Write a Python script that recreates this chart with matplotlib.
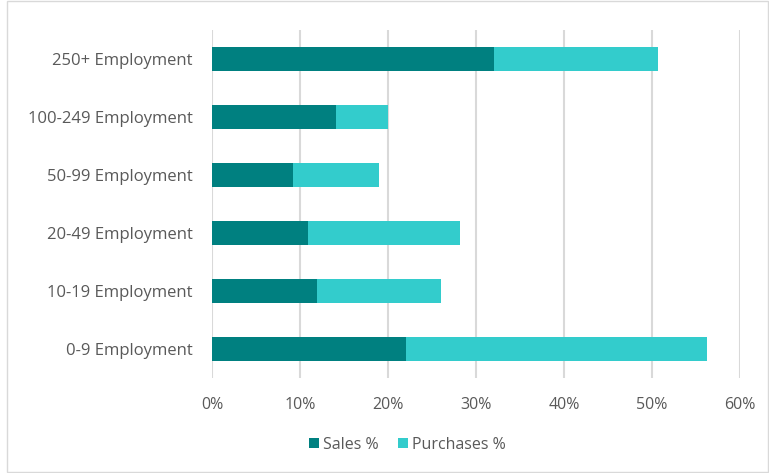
import matplotlib.pyplot as plt
from matplotlib.patches import Rectangle
from matplotlib.ticker import PercentFormatter

plt.rcParams['font.family'] = ['Open Sans', 'DejaVu Sans']

categories = ['0-9 Employment', '10-19 Employment', '20-49 Employment',
              '50-99 Employment', '100-249 Employment', '250+ Employment']
sales = [22.1, 11.9, 10.9, 9.2, 14.1, 32.0]
purchases = [34.1, 14.1, 17.3, 9.8, 5.9, 18.7]

sales_col = '#008080'
purch_col = '#33CCCC'
text_col = '#595959'

fig = plt.figure(figsize=(7.69, 4.73), dpi=100)
ax = fig.add_axes([212 / 769, 1 - 378 / 473, 528 / 769, 348 / 473])

y = range(len(categories))
ax.barh(y, sales, height=0.42, color=sales_col, label='Sales %', zorder=3)
ax.barh(y, purchases, left=sales, height=0.42, color=purch_col,
        label='Purchases %', zorder=3)

ax.set_xlim(0, 60)
ax.set_ylim(-0.5, len(categories) - 0.5)
ax.set_xticks(range(0, 61, 10))
ax.xaxis.set_major_formatter(PercentFormatter(decimals=0))
ax.set_yticks(list(y))
ax.set_yticklabels(categories)
ax.tick_params(axis='both', length=0, labelsize=11.5, colors=text_col)
ax.tick_params(axis='y', labelsize=12, pad=14)
ax.tick_params(axis='x', pad=14)
ax.grid(axis='x', color='#d9d9d9', linewidth=1.5, zorder=0)
for s in ax.spines.values():
    s.set_visible(False)

leg = fig.legend(loc='center', bbox_to_anchor=(0.53, 1 - 445 / 473), ncol=2,
                 frameon=False, fontsize=11.5, handlelength=0.6,
                 handleheight=0.6, handletextpad=0.3, columnspacing=1.2)
for t in leg.get_texts():
    t.set_color(text_col)

# thin frame around the chart area
fig.patches.append(Rectangle((7 / 769, 0.002), 1 - 8 / 769, 0.996,
                             transform=fig.transFigure, fill=False,
                             edgecolor='#d9d9d9', linewidth=1))

fig.savefig('out.png', dpi=100)
